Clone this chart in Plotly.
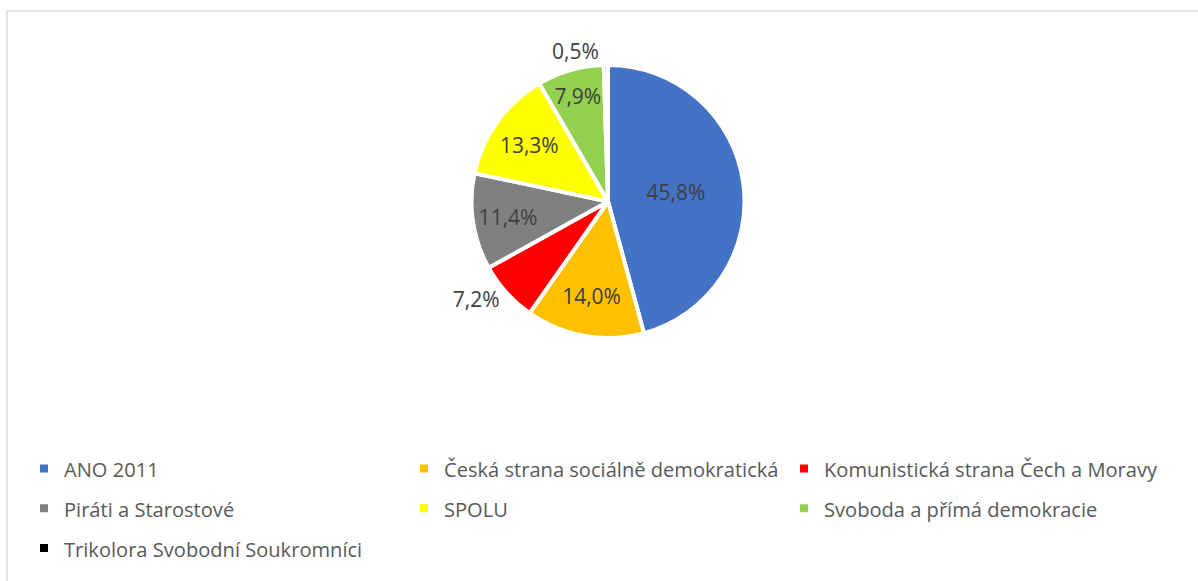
import plotly.graph_objects as go

parties = [
    "ANO 2011",
    "Česká strana sociálně demokratická",
    "Komunistická strana Čech a Moravy",
    "Piráti a Starostové",
    "SPOLU",
    "Svoboda a přímá demokracie",
    "Trikolora Svobodní Soukromníci",
]
shares = [45.8, 14.0, 7.2, 11.4, 13.3, 7.9, 0.5]
colors = ["#4472C4", "#FFC000", "#FF0000", "#808080", "#FFFF00", "#92D050", "#000000"]
label_pos = ["inside", "inside", "outside", "inside", "inside", "inside", "outside"]

W, H = 1198, 581
legend_names = [f"<span style='font-size:20.1px;baseline-shift:2px'>{p}</span>" for p in parties]

fig = go.Figure(go.Pie(
    labels=legend_names,
    values=shares,
    sort=False,
    direction="clockwise",
    rotation=0,
    marker=dict(colors=colors, line=dict(color="white", width=4)),
    texttemplate="%{value:.1f}%",
    textinfo="text",
    textposition=label_pos,
    insidetextorientation="horizontal",
    textfont=dict(family="Open Sans", size=21, color="#404040"),
    domain=dict(x=[2 * 608 / W - 1, 1], y=[1 - 338 / H, 1 - 65 / H]),
    hoverinfo="skip",
))

fig.update_layout(
    width=W, height=H,
    autosize=False,
    margin=dict(l=0, r=0, t=0, b=0, autoexpand=False),
    paper_bgcolor="white",
    separators=", ",
    font=dict(family="Open Sans", color="#595959"),
    uniformtext=dict(minsize=21, mode="show"),
    showlegend=True,
    legend=dict(
        orientation="h",
        x=24 / W, xanchor="left",
        y=1 - 443.5 / H, yanchor="top",
        font=dict(family="Open Sans", size=28.3, color="#595959"),
        entrywidth=335, entrywidthmode="pixels",
        traceorder="normal",
        bgcolor="rgba(0,0,0,0)",
    ),
    shapes=[dict(
        type="rect", xref="paper", yref="paper",
        x0=7 / W, x1=1.05, y0=-0.05, y1=1 - 11 / H,
        line=dict(color="#D9D9D9", width=1.5),
        fillcolor="rgba(0,0,0,0)", layer="below",
    )],
)

fig.write_html(
    "out.html",
    config={"displayModeBar": False},
    post_script="document.body.style.margin='0px';",
)
